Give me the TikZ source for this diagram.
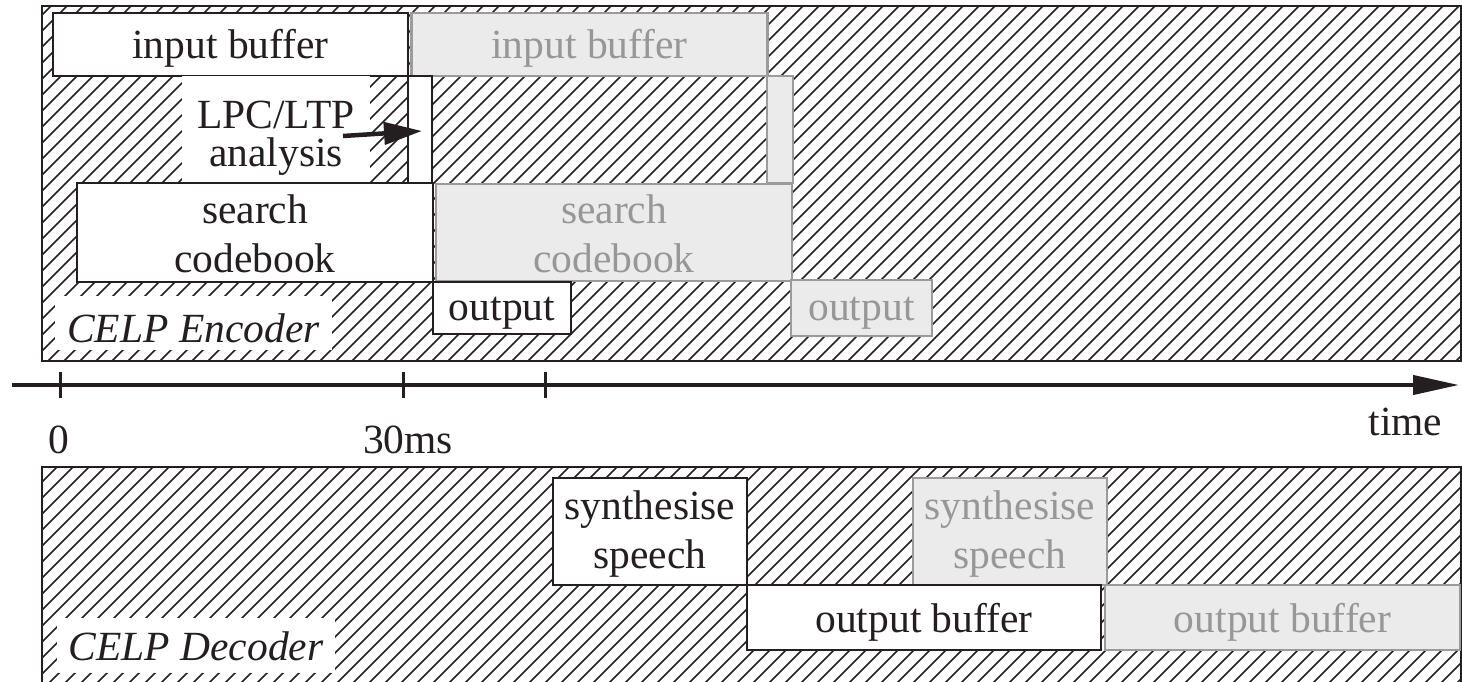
\documentclass[tikz,border=0pt]{standalone}
\usepackage{fontspec}
\setmainfont{Liberation Serif}
\usetikzlibrary{arrows.meta,calc}
\definecolor{ink}{HTML}{231F20}
\definecolor{gfill}{HTML}{EBEBEB}
\definecolor{gline}{HTML}{9B9B9B}
\definecolor{gtext}{HTML}{979797}
\tikzset{
 box/.style={rectangle, inner sep=0pt, outer sep=0pt, align=center, text depth=0pt, font=\fontsize{41.5}{49}\selectfont},
 wbox/.style={box, draw=ink, line width=2.6pt, fill=white, text=ink},
 gbox/.style={box, draw=gline, line width=2.6pt, fill=gfill, text=gtext},
 frame/.style={rectangle, draw=ink, line width=2.6pt, inner sep=0pt, outer sep=0pt},
 hatch/.style={draw=ink, line width=1.55pt},
 tag/.style={box, fill=white, text=ink, font=\fontsize{41.5}{49}\selectfont\itshape},
 axlabel/.style={anchor=base, inner sep=0pt, text=ink, font=\fontsize{41.5}{49}\selectfont},
}
\begin{document}
\begin{tikzpicture}[x=1pt,y=-1pt]
\useasboundingbox (0,0) rectangle (1462,682);
% hatching of the encoder panel
\begin{scope}
\clip (42,6) rectangle (1461,361);
\foreach \x in {-368,-352,...,1470} \draw[hatch] (\x,361) -- ++(355,-355);
\end{scope}
% hatching of the decoder panel
\begin{scope}
\clip (42,467) rectangle (1461,700);
\foreach \x in {-240,-224,...,1470} \draw[hatch] (\x,700) -- ++(233,-233);
\end{scope}
% panels
\node[frame, minimum width=1419pt, minimum height=355pt] (enc) at (751.5,183.5) {};
\node[frame, minimum width=1419pt, minimum height=233pt] (dec) at (751.5,583.5) {};
% encoder blocks
\node[wbox, minimum width=355pt, minimum height=63pt, text height=29pt] (inbufA) at (230.5,44.5) {input buffer};
\node[gbox, minimum width=356pt, minimum height=63pt, text height=29pt] (inbufB) at (589.5,44.5) {input buffer};
\node[box, fill=white, text=ink, minimum width=188pt, minimum height=107pt, text height=75pt,
      font=\fontsize{41.5}{39}\selectfont] (lpc) at (276,129.5) {LPC/LTP\\analysis};
\node[wbox, minimum width=24pt, minimum height=107pt] (barA) at (420,129.5) {};
\node[gbox, minimum width=26pt, minimum height=107pt] (barB) at (780,129.5) {};
\node[wbox, minimum width=356pt, minimum height=99pt, text height=79pt] (searchA) at (255,232.5) {search\\codebook};
\node[gbox, minimum width=356pt, minimum height=97pt, text height=79pt] (searchB) at (614,232.5) {search\\codebook};
\node[wbox, minimum width=138pt, minimum height=52pt, text height=24pt] (outA) at (502,308) {output};
\node[gbox, minimum width=141pt, minimum height=56pt, text height=24pt] (outB) at (861.5,308) {output};
\node[tag, minimum width=277pt, minimum height=54pt, text height=39pt] (enclabel) at (193.5,323) {CELP Encoder};
% arrow from analysis
\coordinate (aS) at ($(lpc.east)+(-27,6.5)$);
\coordinate (aE) at ($(barA.west)+(14,1.5)$);
\draw[ink, line width=4.5pt, -{Triangle[length=38pt,width=22pt]}] (aS) -- (aE);
% decoder blocks
\node[wbox, minimum width=194pt, minimum height=107pt, text height=73pt] (synA) at (650,531.5) {synthesise\\speech};
\node[gbox, minimum width=194pt, minimum height=107pt, text height=73pt] (synB) at (1010,531.5) {synthesise\\speech};
\node[wbox, minimum width=354pt, minimum height=65pt, text height=29pt] (obufA) at (924,617.5) {output buffer};
\node[gbox, minimum width=355pt, minimum height=65pt, text height=29pt] (obufB) at (1282.5,617.5) {output buffer};
\node[tag, minimum width=278pt, minimum height=55pt, text height=29pt] (declabel) at (196,645.5) {CELP Decoder};
% time axis
\coordinate (axS) at (12,385);
\coordinate (axE) at (1459,385);
\draw[ink, line width=4pt, -{Triangle[length=46pt,width=19pt]}] (axS) -- (axE);
\foreach \t in {60,403,545} \draw[ink, line width=3pt] (\t,372) -- (\t,398);
\node[axlabel] (l0) at (58.5,453) {0};
\node[axlabel] (l30) at (408,453) {30ms};
\node[axlabel] (ltime) at (1405.5,435) {time};
\end{tikzpicture}
\end{document}
